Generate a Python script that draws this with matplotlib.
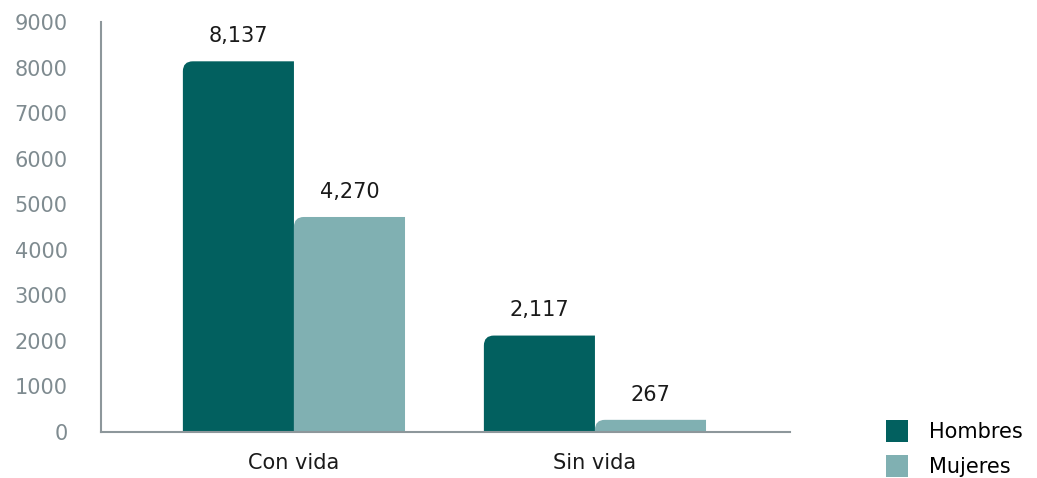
import matplotlib
matplotlib.use("Agg")
import matplotlib.pyplot as plt
import numpy as np
from matplotlib.path import Path
from matplotlib.patches import PathPatch, Patch

# ── 데이터 ────────────────────────────────────────────────────────────────
categories = ["Con vida", "Sin vida"]
series_names = ["Hombres", "Mujeres"]
hombres = [8137, 2117]
mujeres = [4720, 267]          # altura dibujada en la imagen original
hombres_labels = ["8,137", "2,117"]
mujeres_labels = ["4,270", "267"]  # etiqueta tal como aparece
yticks = [0, 1000, 2000, 3000, 4000, 5000, 6000, 7000, 8000, 9000]

C_DARK = "#02605f"
C_LIGHT = "#80b0b2"
C_AXIS = "#8d979b"
C_TICK = "#7f8b90"
FS = 15

plt.rcParams["font.family"] = ["DejaVu Sans"]

fig = plt.figure(figsize=(10.37, 4.78), dpi=100)
ax = fig.add_axes([101 / 1037, 46 / 478, 689 / 1037, 410 / 478])

x = np.arange(len(categories))
width = 0.369

ax.set_xlim(-0.641, 1.648)
ax.set_ylim(0, 9000)

bars_h = ax.bar(x - width / 2, hombres, width, color=C_DARK)
bars_m = ax.bar(x + width / 2, mujeres, width, color=C_LIGHT)

# esquina superior izquierda redondeada
radius_px = 10
inv = ax.transData.inverted()
p0 = inv.transform((0, 0))
p1 = inv.transform((radius_px, radius_px))
rx, ry = p1[0] - p0[0], p1[1] - p0[1]


def round_top_left(rect):
    x0, y0 = rect.get_x(), rect.get_y()
    x1, y1 = x0 + rect.get_width(), y0 + rect.get_height()
    r_y = min(ry, y1 - y0)
    verts = [(x0, y0), (x0, y1 - r_y), (x0, y1), (x0 + rx, y1),
             (x1, y1), (x1, y0), (x0, y0)]
    codes = [Path.MOVETO, Path.LINETO, Path.CURVE3, Path.CURVE3,
             Path.LINETO, Path.LINETO, Path.CLOSEPOLY]
    patch = PathPatch(Path(verts, codes), facecolor=rect.get_facecolor(),
                      edgecolor="none", zorder=2)
    rect.set_visible(False)
    ax.add_patch(patch)


for rect in list(bars_h) + list(bars_m):
    round_top_left(rect)

# etiquetas de valor
for rect, lab in zip(list(bars_h) + list(bars_m), hombres_labels + mujeres_labels):
    ax.annotate(lab, (rect.get_x() + rect.get_width() / 2, rect.get_height()),
                textcoords="offset points", xytext=(0, 11), ha="center",
                va="bottom", fontsize=FS, color="#1a1a1a")

ax.set_xticks(x)
ax.set_xticklabels(categories, fontsize=FS, color="#1a1a1a")
ax.set_yticks(yticks)
ax.set_yticklabels([str(v) for v in yticks], fontsize=FS, color=C_TICK)
ax.tick_params(axis="both", length=0)
ax.tick_params(axis="y", pad=24)
ax.tick_params(axis="x", pad=15)

for side in ("top", "right"):
    ax.spines[side].set_visible(False)
for side in ("left", "bottom"):
    ax.spines[side].set_color(C_AXIS)
    ax.spines[side].set_linewidth(1.5)

handles = [Patch(facecolor=C_DARK), Patch(facecolor=C_LIGHT)]
fig.legend(handles, series_names, loc="upper left",
           bbox_to_anchor=(886 / 1037, 1 - 420 / 478),
           bbox_transform=fig.transFigure, frameon=False, fontsize=FS,
           handlelength=1.05, handleheight=1.25, handletextpad=1.0,
           labelspacing=0.62, borderpad=0, borderaxespad=0)

fig.savefig("out.png", dpi=100)
